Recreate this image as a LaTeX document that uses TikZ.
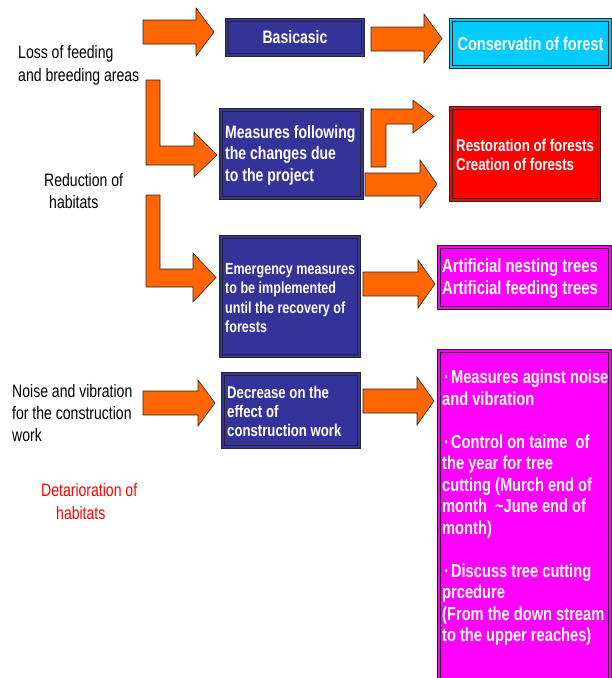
\documentclass[tikz,border=0pt]{standalone}
\usepackage{fontspec}
\newfontfamily\lab[FakeStretch=0.78]{Liberation Sans}
\definecolor{bluebox}{HTML}{333399}
\definecolor{cyanbox}{HTML}{00CCFF}
\definecolor{redbox}{HTML}{FF0000}
\definecolor{magbox}{HTML}{FF00FF}
\definecolor{arrorange}{HTML}{FF6600}
\definecolor{edge}{HTML}{262626}
\newcommand\bulletdot{\hspace{2pt}·\hspace{2pt}}
\begin{document}
\begin{tikzpicture}[x=1pt,y=-1pt,
  boxbase/.style={rectangle, draw=edge, line width=0.9pt, double distance=1.3pt,
    inner sep=0pt, outer sep=0pt},
  bluestyle/.style={boxbase, fill=bluebox, double=bluebox},
  cyanstyle/.style={boxbase, fill=cyanbox, double=cyanbox},
  redstyle/.style={boxbase, fill=redbox, double=redbox},
  magstyle/.style={boxbase, fill=magbox, double=magbox},
  boxtext/.style={anchor=west, inner sep=0pt, text=white, align=left},
  blockarr/.style={fill=arrorange, draw=black!85, line width=0.6pt, line join=miter},
  labeltext/.style={anchor=base west, inner sep=0pt, font=\lab\fontsize{18}{22}\selectfont},
]
\useasboundingbox (0,0) rectangle (612,678);
\clip (0,0) rectangle (612,678);

% ---- boxes ----
\node[bluestyle, minimum width=136pt, minimum height=35pt, text=white,
      font=\lab\bfseries\fontsize{18}{21}\selectfont] (basic) at (295,37.5) {Basicasic};
\node[cyanstyle, minimum width=159pt, minimum height=47pt, text=white,
      font=\lab\bfseries\fontsize{18.6}{22}\selectfont] (cons) at (530.5,43.5) {Conservatin of forest};

\node[bluestyle, minimum width=141pt, minimum height=88pt] (meas) at (291.5,154) {};
\node[boxtext, font=\lab\bfseries\fontsize{18}{21.5}\selectfont] (meastext) at ([xshift=4pt,yshift=-1pt]meas.west)
      {Measures following\\the changes due\\to the project};

\node[redstyle, minimum width=148pt, minimum height=92pt] (rest) at (525,154) {};
\node[boxtext, font=\lab\bfseries\fontsize{17}{18.5}\selectfont] (resttext) at ([xshift=5pt,yshift=-1pt]rest.west)
      {Restoration of forests\\Creation of forests};

\node[bluestyle, minimum width=138pt, minimum height=119pt] (emer) at (290,296.5) {};
\node[boxtext, font=\lab\bfseries\fontsize{16.1}{19.5}\selectfont] (emertext) at ([xshift=4pt,yshift=-1.5pt]emer.west)
      {Emergency measures\\to be implemented\\until the recovery of\\forests};

\node[magstyle, minimum width=171pt, minimum height=61pt] (arti) at (524.5,277.5) {};
\node[boxtext, font=\lab\bfseries\fontsize{19}{22}\selectfont] (artitext) at ([xshift=3pt,yshift=-1.5pt]arti.west)
      {Artificial nesting trees\\Artificial feeding trees};

\node[bluestyle, minimum width=136pt, minimum height=73pt] (decr) at (291,410.5) {};
\node[boxtext, font=\lab\bfseries\fontsize{16.9}{19}\selectfont] (decrtext) at ([xshift=4pt,yshift=-0.5pt]decr.west)
      {Decrease on the\\effect of\\construction work};

\node[magstyle, minimum width=171pt, minimum height=349pt] (big) at (524.5,525.5) {};
\node[anchor=north west, inner sep=0pt, text=white, align=left,
      font=\lab\bfseries\fontsize{18.8}{21.5}\selectfont] (bigtext) at (442,370)
      {\bulletdot Measures aginst noise\\and vibration\\[21.5pt]
       \bulletdot Control on taime\ \ of\\the year for tree\\cutting (Murch end of\\month\ \ \textasciitilde June end of\\month)\\[21.5pt]
       \bulletdot Discuss tree cutting\\prcedure\\(From the down stream\\to the upper reaches)};

% ---- left labels ----
\node[labeltext] (loss1) at (18,58.5) {Loss of feeding};
\node[labeltext] (loss2) at (18,81.5) {and breeding areas};
\node[labeltext] (red1) at (44,186.5) {Reduction of};
\node[labeltext] (red2) at (49,208.5) {habitats};
\node[labeltext] (noi1) at (12,397.5) {Noise and vibration};
\node[labeltext] (noi2) at (12,419.5) {for the construction};
\node[labeltext] (noi3) at (12,441.5) {work};
\node[labeltext, text=redbox] (det1) at (41,496.5) {Detarioration of};
\node[labeltext, text=redbox] (det2) at (56,519.5) {habitats};

% ---- block arrows ----
% loss -> basic
\draw[blockarr] (143,20)--(196,20)--(196,8)--(214,32)--(196,56)--(196,44)--(143,44)--cycle;
% basic -> conservation
\draw[blockarr] (371,27)--(424,27)--(424,14)--(442,38.5)--(424,63)--(424,51)--(371,51)--cycle;
% loss -> measures (L shape)
\draw[blockarr] (146,80)--(160,80)--(160,146)--(194,146)--(194,132)--(217,155)--(194,177)--(194,165)--(146,165)--cycle;
% measures -> restoration (bent up)
\draw[blockarr] (371,167)--(371,109)--(413,109)--(413,100)--(434,116.5)--(413,133)--(413,124)--(386,124)--(386,167)--cycle;
% measures -> restoration (straight)
\draw[blockarr] (365,173)--(420,173)--(420,160)--(437,184)--(420,208)--(420,196)--(365,196)--cycle;
% reduction -> emergency (L shape)
\draw[blockarr] (146,195)--(160,195)--(160,269)--(193,269)--(193,253)--(216,277.5)--(193,302)--(193,287)--(146,287)--cycle;
% emergency -> artificial
\draw[blockarr] (363,272)--(418,272)--(418,260)--(435,284)--(418,308)--(418,296)--(363,296)--cycle;
% noise -> decrease
\draw[blockarr] (143,391)--(198,391)--(198,380)--(215,403)--(198,426)--(198,415)--(143,415)--cycle;
% decrease -> measures list
\draw[blockarr] (363,389)--(417,389)--(417,377)--(434,401)--(417,425)--(417,413)--(363,413)--cycle;
\end{tikzpicture}
\end{document}
